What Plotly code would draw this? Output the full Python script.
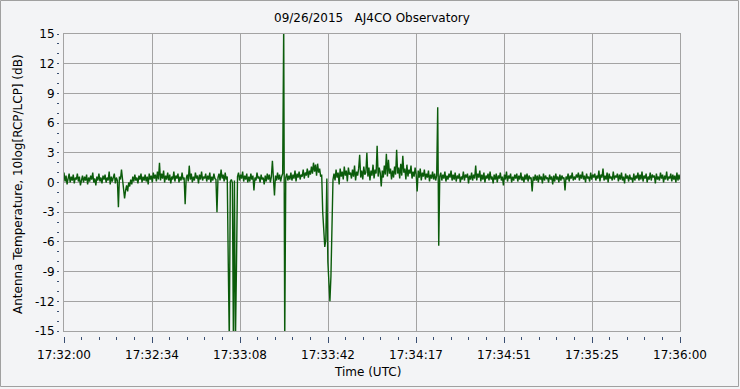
import plotly.graph_objects as go

# ---------------- data ----------------
SAMPLE_STEP_S = 0.4  # seconds between samples, starting 17:32:00

antenna_db = [
    1.0, 0.1, 0.7, -0.2, 0.4, 0.9, 0.0, 0.6, 0.2, 0.8, -0.1, 0.5, 0.3, 0.9, 0.1, 0.6, -0.3, 0.4, 0.7, 0.0,
    0.6, 0.2, 0.8, -0.2, 0.5, 0.1, 0.7, 0.3, 1.0, 0.0, 0.4, -0.3, 0.6, 0.2, 0.9, 0.1, 0.5, -0.1, 0.7, 0.3,
    0.8, 0.0, 0.5, 0.2, 1.1, -0.2, 0.6, 0.1, 0.4, 0.9, -0.1, 0.5, 0.2, -2.5, 0.6, 0.3, 1.3, 0.1, -0.6, -1.6,
    -0.8, -0.3, -0.9, 0.0, -0.4, 0.3, -0.2, 0.6, 0.1, 0.8, 0.2, 0.5, -0.1, 0.7, 0.3, 0.9, 0.0, 0.6, 0.2, 0.8,
    0.1, 0.6, -0.2, 0.9, 0.3, 0.7, 0.0, 1.0, 0.4, 0.8, 0.1, 1.1, 0.3, 2.0, 0.2, 0.9, 0.4, 1.2, 0.0, 0.7,
    0.3, 1.0, 0.2, 0.8, -0.1, 0.6, 0.3, 1.1, 0.1, 0.7, 0.4, 0.9, 0.0, 0.6, 0.2, 1.0, 0.3, 0.5, -2.2, 0.4,
    0.8, 0.1, 1.7, 0.3, 0.9, 0.0, 0.6, 0.2, 1.0, 0.4, 0.7, -0.1, 0.8, 0.3, 1.1, 0.2, 0.6, 0.4, 0.9, 0.1,
    0.7, 0.3, 1.0, 0.0, 0.6, 0.2, 0.9, 0.4, 0.3, -3.0, 0.5, 0.9, 0.2, 1.3, 0.4, 0.8, 0.1, 1.0, 0.3, 0.6,
    -8.2, -16, 0.1, 0.3, 0.0, -16, 0.2, -16, -8.4, 0.6, 1.0, 0.2, 0.8, 0.4, 1.1, 0.1, 0.7, 0.3, 0.9, 0.0,
    0.6, 0.1, 0.9, 0.3, 0.7, -0.8, 0.5, 0.2, 1.0, 0.4, 0.6, 0.0, 0.8, 0.3, 0.5, -0.2, 0.7, 0.1, 0.9, 0.3,
    0.8, 0.0, 0.6, 2.2, 0.4, -1.3, 0.7, 0.2, 1.0, 0.3, 0.8, 0.1, 0.6, 0.9, 16, -16, 0.5, 0.9, 0.2, 0.7,
    0.3, 1.0, 0.2, 0.8, 0.4, 1.2, 0.1, 0.9, 0.5, 1.1, 0.3, 0.8, 0.6, 1.3, 0.4, 1.0, 0.7, 1.4, 0.5, 1.2,
    0.8, 1.6, 0.9, 2.0, 1.1, 1.8, 0.7, 1.9, 1.0, 1.4, 0.6, 0.8, -3.0, -4.6, -6.5, -5.8, 0.4, -8.0, -10.5, -12.0,
    -9.5, -5.0, 0.3, 0.9, 0.2, 1.3, 0.5, 1.0, -0.2, 1.4, 0.6, 1.1, 0.3, 1.6, 0.7, 1.2, 0.1, 1.5, 0.8, 1.0,
    0.4, 1.3, 0.6, 1.7, 0.2, 1.1, 0.7, 1.4, 2.8, 0.5, 1.2, 0.3, 1.6, 0.8, 1.0, 3.0, 0.6, 1.5, 0.2, 1.2,
    0.7, 1.8, 0.4, 1.3, 0.9, 3.7, 0.6, 1.5, 1.0, -0.4, 1.2, 0.5, 1.7, 0.8, 2.9, 0.6, 2.3, 0.9, 1.4, 0.3,
    1.2, 0.5, 1.6, 0.8, 3.3, 0.9, 1.5, 0.4, 1.9, 0.7, 2.7, 1.0, 1.4, 0.3, 1.8, 0.6, 1.3, 0.9, 1.7, 0.4,
    1.1, 0.6, 1.5, 0.8, -0.9, 1.2, 0.5, 1.4, 0.2, 1.0, 0.6, 1.3, 0.3, 0.9, 0.5, 1.2, 0.1, 0.8, 0.4, 1.1,
    0.3, 0.9, 0.2, 0.7, 7.6, -6.4, 0.6, 1.0, 0.2, 0.8, 0.4, 1.1, 0.1, 0.7, 0.3, 0.9, 0.5, 1.2, 0.2, 0.8,
    0.3, 1.0, 0.1, 0.7, 0.4, 0.9, 0.0, 0.6, 0.3, 1.1, 0.2, 0.8, 0.5, 0.9, -0.1, 0.7, 0.3, 1.0, 0.2, 0.8,
    0.4, 1.7, 0.2, 0.9, 0.5, 1.2, 0.1, 0.8, 0.3, 1.0, 0.0, 0.7, 0.4, 0.9, 0.2, 1.1, 0.3, 0.6, -0.1, 0.8,
    0.3, 0.9, 0.0, 0.7, 0.4, 1.0, 0.2, 0.6, -0.3, 0.8, 0.3, 1.1, 0.1, 0.7, 0.4, 0.9, 0.0, 0.6, 0.2, 0.8,
    0.4, 0.9, 0.1, 0.7, 0.3, 1.0, 0.2, 0.6, 0.0, 0.8, 0.3, 0.9, 0.1, 0.7, 0.4, 0.5, -0.9, 0.6, 0.2, 0.8,
    0.2, 0.7, 0.0, 0.8, 0.3, 0.6, -0.1, 0.9, 0.2, 0.7, 0.4, 0.5, 0.0, 0.8, 0.3, 0.6, -0.2, 0.7, 0.1, 0.9,
    0.3, 0.6, 0.0, 0.8, 0.2, 0.7, 0.4, 0.5, -0.8, 0.6, 0.3, 0.9, 0.1, 0.7, 0.4, 1.0, 0.2, 0.6, 0.3, 0.8,
    0.5, 1.0, 0.2, 0.8, 0.4, 1.1, 0.3, 0.7, 0.0, 0.9, 0.4, 0.6, 0.1, 1.0, 0.3, 0.8, 0.5, 0.9, 0.2, 0.7,
    0.4, 1.2, 0.1, 0.8, 0.5, 1.4, 0.2, 0.7, 0.3, 1.0, 0.0, 0.9, 0.4, 0.6, 0.2, 1.1, 0.3, 0.7, 0.5, 0.9,
    0.1, 0.8, 0.3, 1.0, 0.2, 0.6, -0.1, 0.9, 0.4, 0.7, 0.1, 0.8, 0.3, 0.5, 0.0, 0.9, 0.2, 0.7, 0.4, 1.0,
    0.2, 0.8, 0.3, 1.1, 0.1, 0.7, 0.4, 0.9, 0.0, 0.6, 0.3, 1.0, 0.2, 0.8, 0.5, 0.7, -0.1, 0.9, 0.3, 0.6,
    0.2, 1.0, 0.4, 0.8, 0.0, 0.7, 0.3, 1.1, 0.2, 0.6, 0.4, 0.9, 0.1, 0.8, 0.3, 0.7, 0.0, 1.0, 0.2, 0.8,
    0.3,
]
time_s = [i * SAMPLE_STEP_S for i in range(len(antenna_db))]

x_tick_seconds = [0, 34.2857, 68.5714, 102.8571, 137.1429, 171.4286, 205.7143, 240]
x_tick_labels = ["17:32:00", "17:32:34", "17:33:08", "17:33:42",
                 "17:34:17", "17:34:51", "17:35:25", "17:36:00"]
y_tick_values = [-15, -12, -9, -6, -3, 0, 3, 6, 9, 12, 15]
y_tick_labels = ["-15", "-12", "-9", "-6", "-3", "0", "3", "6", "9", "12", "15"]

title_text = "09/26/2015\u00a0\u00a0\u00a0AJ4CO Observatory"
x_title = "Time (UTC)"
y_title = "Antenna Temperature, 10log[RCP/LCP] (dB)"

# ---------------- layout geometry ----------------
W, H = 740, 389
L, R, T, B = 59, 60, 34, 53
PW, PH = W - L - R, H - T - B


def px(xp):
    return (xp - L) / PW


def py(yp):
    return 1 - (yp - T) / PH


FONT = "DejaVu Sans"
BG = "#f3f4f6"
GRID = "#a3a3a3"
TICKC = "#3a4f72"

fig = go.Figure()
fig.add_trace(go.Scatter(x=time_s, y=antenna_db, mode="lines",
                         line=dict(color="#0b5c0b", width=1.4),
                         hoverinfo="skip", showlegend=False))
fig.add_trace(go.Scatter(x=[0], y=[0], xaxis="x2", yaxis="y2", mode="markers",
                         marker=dict(opacity=0), hoverinfo="skip", showlegend=False))

fig.update_layout(
    width=W, height=H,
    margin=dict(l=L, r=R, t=T, b=B, pad=0),
    paper_bgcolor=BG, plot_bgcolor=BG,
    font=dict(family=FONT, size=12, color="#000000"),
    showlegend=False,
    hovermode=False,
    xaxis=dict(domain=[5 / PW, 1], range=[0, 240], tickvals=x_tick_seconds,
               showticklabels=False, ticks="", showgrid=True, gridcolor=GRID,
               gridwidth=1, showline=True, linecolor=GRID, linewidth=1,
               mirror=True, zeroline=False, automargin=False),
    yaxis=dict(domain=[5 / PH, 1], range=[-15, 15], tickvals=y_tick_values,
               showticklabels=False, ticks="", showgrid=True, gridcolor=GRID,
               gridwidth=1, showline=True, linecolor=GRID, linewidth=1,
               mirror=True, zeroline=False, automargin=False),
    xaxis2=dict(overlaying="x", anchor="free", position=0, range=[0, 240],
                tickvals=x_tick_seconds, ticktext=x_tick_labels,
                ticks="outside", ticklen=6, tickwidth=1, tickcolor=TICKC,
                ticklabelstandoff=2,
                minor=dict(tick0=0, dtick=240 / 35, ticks="outside", ticklen=3,
                           tickwidth=1, tickcolor=TICKC, showgrid=False),
                showgrid=False, showline=False, zeroline=False,
                tickfont=dict(family=FONT, size=12, color="#000000"),
                automargin=False),
    yaxis2=dict(overlaying="y", anchor="free", position=0, side="left",
                range=[-15, 15], tickvals=y_tick_values, ticktext=y_tick_labels,
                ticks="outside", ticklen=2, tickwidth=1, tickcolor=TICKC,
                minor=dict(tick0=0, dtick=1, ticks="outside", ticklen=2,
                           tickwidth=1, tickcolor=TICKC, showgrid=False),
                showgrid=False, showline=False, zeroline=False,
                tickfont=dict(family=FONT, size=12, color="#000000"),
                automargin=False),
    annotations=[
        dict(text=title_text, xref="paper", yref="paper", x=px(372), y=py(18),
             showarrow=False, xanchor="center", yanchor="middle",
             font=dict(family=FONT, size=12, color="#000000")),
        dict(text=x_title, xref="paper", yref="paper", x=px(367), y=py(372),
             showarrow=False, xanchor="center", yanchor="middle",
             font=dict(family=FONT, size=12, color="#000000")),
        dict(text=y_title, xref="paper", yref="paper", x=px(18), y=py(184),
             showarrow=False, xanchor="center", yanchor="middle", textangle=-90,
             font=dict(family=FONT, size=12, color="#000000")),
    ],
    shapes=[
        dict(type="rect", xref="paper", yref="paper",
             x0=px(0.5), x1=px(738.5), y0=py(386.5), y1=py(0.5),
             line=dict(color="#a0a0a0", width=1), fillcolor="rgba(0,0,0,0)",
             layer="below"),
    ],
)

fig.write_html(
    "out.html",
    include_plotlyjs=True,
    config={"displayModeBar": False, "staticPlot": True},
    post_script="document.body.style.margin='0';document.body.style.overflow='hidden';",
)
